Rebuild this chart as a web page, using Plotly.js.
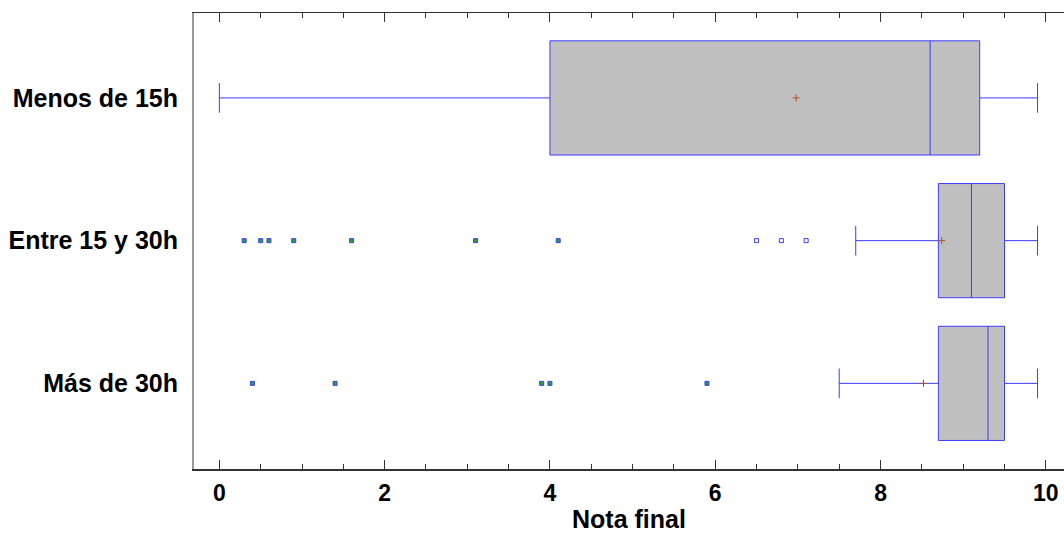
<!DOCTYPE html>
<html>
<head>
<meta charset="utf-8">
<script src="https://cdn.plot.ly/plotly-3.0.1.min.js"></script>
<style>html,body{margin:0;padding:0;background:#fff;}#chart{width:1064px;height:533px;}</style>
</head>
<body>
<div id="chart"></div>
<script>
// Data
const categories = ["Menos de 15h", "Entre 15 y 30h", "Más de 30h"];
const lowerWhisker = [0.0, 7.7, 7.5];
const q1Values = [4.0, 8.7, 8.7];
const medianValues = [8.6, 9.1, 9.3];
const q3Values = [9.2, 9.5, 9.5];
const upperWhisker = [9.9, 9.9, 9.9];
const meanValues = [6.98, 8.74, 8.52];
const entreFarOutliers = [0.3, 0.5, 0.6, 0.9, 1.6, 3.1, 4.1];
const entreNearOutliers = [6.5, 6.8, 7.1];
const masFarOutliers = [0.4, 1.4, 3.9, 4.0, 5.9];
const xTickValues = [0, 2, 4, 6, 8, 10];
const xTitle = "Nota final";

const blue = "rgb(60,60,255)";
const font = {family: "Liberation Sans, Arial, sans-serif", color: "#000", weight: "bold"};

const traces = [
  {
    type: "box", orientation: "h",
    y: categories,
    q1: q1Values, median: medianValues, q3: q3Values,
    lowerfence: lowerWhisker, upperfence: upperWhisker,
    boxpoints: false,
    fillcolor: "#c0c0c0",
    line: {color: blue, width: 1},
    width: 0.8,
    whiskerwidth: 0.26,
    hoverinfo: "x",
    showlegend: false
  },
  {
    type: "scatter", mode: "markers",
    x: entreFarOutliers, y: entreFarOutliers.map(() => categories[1]),
    marker: {symbol: "square", size: 4, color: "rgb(40,160,60)", line: {color: blue, width: 1}},
    showlegend: false
  },
  {
    type: "scatter", mode: "markers",
    x: entreNearOutliers, y: entreNearOutliers.map(() => categories[1]),
    marker: {symbol: "square", size: 4, color: "#fff", line: {color: blue, width: 1}},
    showlegend: false
  },
  {
    type: "scatter", mode: "markers",
    x: masFarOutliers, y: masFarOutliers.map(() => categories[2]),
    marker: {symbol: "square", size: 4, color: "rgb(40,160,60)", line: {color: blue, width: 1}},
    showlegend: false
  },
  {
    type: "scatter", mode: "markers",
    x: meanValues, y: categories,
    marker: {symbol: "cross-thin", size: 5, color: "rgb(170,80,40)", line: {color: "rgb(170,80,40)", width: 1}},
    showlegend: false
  }
];

const layout = {
  width: 1064, height: 533,
  margin: {l: 194, r: 0, t: 13, b: 64},
  paper_bgcolor: "#fff", plot_bgcolor: "#fff",
  showlegend: false,
  xaxis: {
    range: [-0.307, 10.22],
    tickvals: xTickValues,
    ticktext: xTickValues.map(String),
    ticks: "inside", ticklen: 9, tickwidth: 1, tickcolor: "#333",
    minor: {dtick: 0.5, ticks: "inside", ticklen: 5, tickwidth: 1, tickcolor: "#333"},
    showline: true, linecolor: "#333", linewidth: 1.5,
    mirror: "ticks",
    showgrid: false, zeroline: false,
    ticklabelstandoff: 3,
    tickfont: Object.assign({size: 23}, font),
    title: {text: xTitle, font: Object.assign({size: 25}, font), standoff: 9}
  },
  yaxis: {
    type: "category",
    categoryorder: "array", categoryarray: categories,
    range: [2.6, -0.595],
    showline: true, linecolor: "#999", linewidth: 2,
    ticks: "", showgrid: false, zeroline: false,
    ticklabelstandoff: 9,
    tickfont: Object.assign({size: 25}, font)
  }
};

Plotly.newPlot("chart", traces, layout, {displayModeBar: false, staticPlot: true});
</script>
</body>
</html>
